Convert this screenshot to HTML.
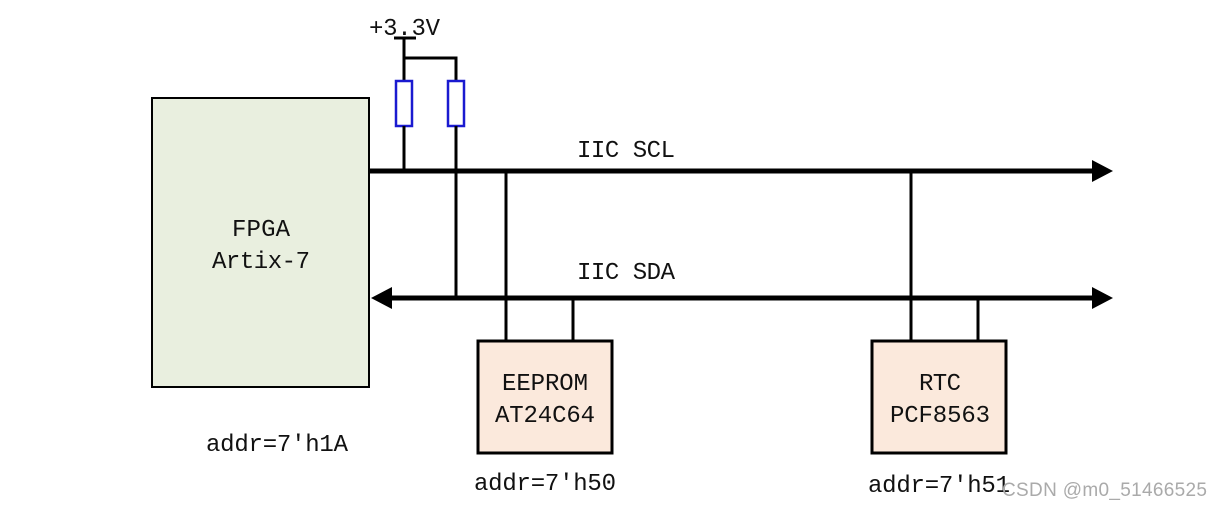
<!DOCTYPE html>
<html><head><meta charset="utf-8"><style>
html,body{margin:0;padding:0;background:#fff;}
svg{display:block}
text{font-family:"Liberation Mono","Noto Serif CJK SC",monospace;font-size:24px;fill:#111}
</style></head><body>
<svg width="1222" height="508" viewBox="0 0 1222 508">
<rect x="152" y="98" width="217" height="289" fill="#e9efdf" stroke="#000" stroke-width="2"/>
<text x="261" y="236" text-anchor="middle" textLength="58">FPGA</text>
<text x="261" y="268" text-anchor="middle" textLength="98">Artix-7</text>
<text x="369" y="35" textLength="71">+3.3V</text>
<line x1="394" y1="38" x2="416" y2="38" stroke="#000" stroke-width="3"/>
<line x1="404" y1="38" x2="404" y2="81" stroke="#000" stroke-width="3"/>
<polyline points="404,58 456,58 456,81" fill="none" stroke="#000" stroke-width="3"/>
<rect x="396" y="81" width="16" height="45" fill="#fff" stroke="#1a1ad0" stroke-width="2.5"/>
<rect x="448" y="81" width="16" height="45" fill="#fff" stroke="#1a1ad0" stroke-width="2.5"/>
<line x1="404" y1="126" x2="404" y2="171" stroke="#000" stroke-width="3"/>
<line x1="456" y1="126" x2="456" y2="298" stroke="#000" stroke-width="3"/>
<line x1="369" y1="171" x2="1095" y2="171" stroke="#000" stroke-width="5"/>
<polygon points="1092,160 1113,171 1092,182" fill="#000"/>
<line x1="388" y1="298" x2="1095" y2="298" stroke="#000" stroke-width="5"/>
<polygon points="1092,287 1113,298 1092,309" fill="#000"/>
<polygon points="392,287 371,298 392,309" fill="#000"/>
<text x="577" y="157" textLength="98">IIC SCL</text>
<text x="577" y="279" textLength="98">IIC SDA</text>
<line x1="506" y1="171" x2="506" y2="341" stroke="#000" stroke-width="3"/>
<line x1="573" y1="298" x2="573" y2="341" stroke="#000" stroke-width="3"/>
<line x1="911" y1="171" x2="911" y2="341" stroke="#000" stroke-width="3"/>
<line x1="978" y1="298" x2="978" y2="341" stroke="#000" stroke-width="3"/>
<rect x="478" y="341" width="134" height="112" fill="#fbe9dc" stroke="#000" stroke-width="3"/>
<rect x="872" y="341" width="134" height="112" fill="#fbe9dc" stroke="#000" stroke-width="3"/>
<text x="545" y="390" text-anchor="middle" textLength="86">EEPROM</text>
<text x="545" y="422" text-anchor="middle" textLength="100">AT24C64</text>
<text x="940" y="390" text-anchor="middle" textLength="42">RTC</text>
<text x="940" y="422" text-anchor="middle" textLength="100">PCF8563</text>
<text x="206" y="451" textLength="142">addr=7'h1A</text>
<text x="474" y="490" textLength="142">addr=7'h50</text>
<text x="868" y="492" textLength="142">addr=7'h51</text>
<text x="1002" y="496" textLength="205" style="font-family:'Liberation Sans',sans-serif;font-size:19px;fill:#aaa">CSDN @m0_51466525</text>
</svg>
</body></html>
